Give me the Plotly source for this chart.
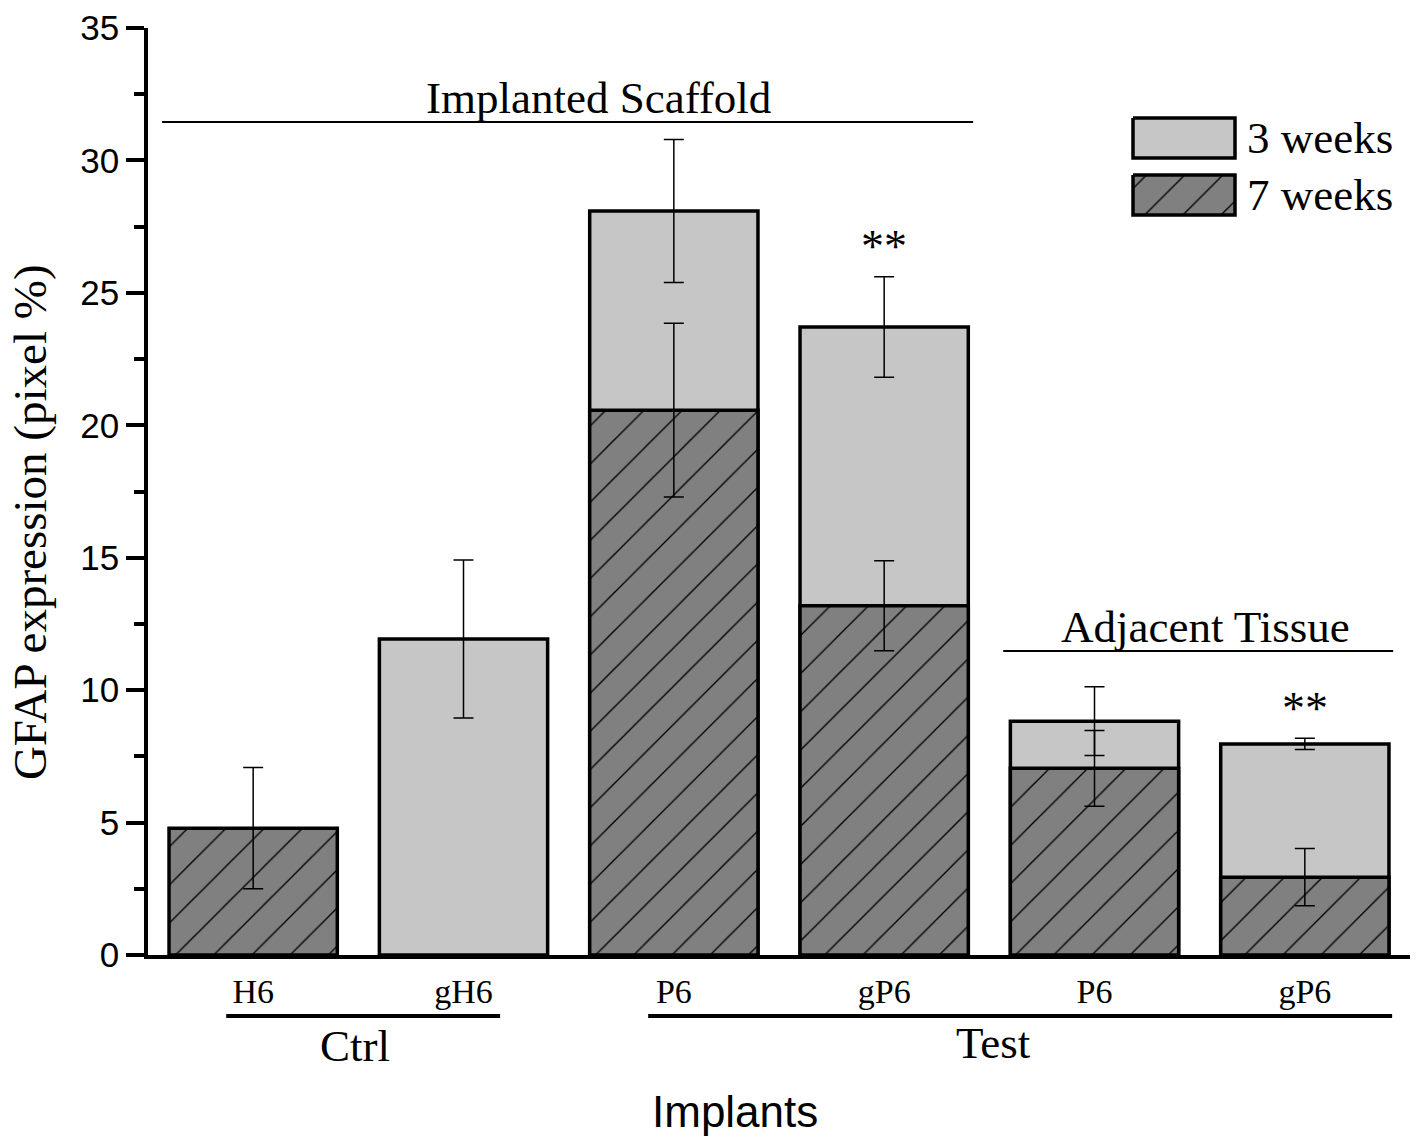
import plotly.graph_objects as go

# ---------------- data ----------------
categories = ["H6", "gH6", "P6", "gP6", "P6", "gP6"]
cat_pos = [0, 1, 2, 3, 4, 5]

# 3 weeks (light gray) – no value for H6
w3_pos = [1, 2, 3, 4, 5]
w3_vals = [11.93, 28.09, 23.71, 8.83, 7.97]
w3_err = [2.98, 2.70, 1.90, 1.30, 0.21]

# 7 weeks (hatched dark gray) – no value for gH6
w7_pos = [0, 2, 3, 4, 5]
w7_vals = [4.79, 20.57, 13.19, 7.05, 2.94]
w7_err = [2.29, 3.28, 1.70, 1.43, 1.08]

SERIF = "Liberation Serif"
SANS = "Liberation Sans"

fig = go.Figure()

fig.add_trace(go.Bar(
    x=w3_pos, y=w3_vals, width=0.8, name="3 weeks",
    marker=dict(color="#c6c6c6", line=dict(color="black", width=3.5)),
    error_y=dict(type="data", array=w3_err, visible=True,
                 color="black", thickness=1.5, width=10),
    showlegend=False,
))
fig.add_trace(go.Bar(
    x=w7_pos, y=w7_vals, width=0.8, name="7 weeks",
    marker=dict(color="#808080", line=dict(color="black", width=3.5),
                pattern=dict(shape="/", fgcolor="black", bgcolor="#808080",
                             size=27, solidity=0.05, fillmode="replace")),
    error_y=dict(type="data", array=w7_err, visible=True,
                 color="black", thickness=1.5, width=10),
    showlegend=False,
))

# ---------------- custom legend (boxes drawn on an auxiliary pixel-space axis) ----------------
legend_items = [
    ("3 weeks", "#c6c6c6", None, 118, 158),
    ("7 weeks", "#808080", "/", 175, 215),
]
bx0, bx1 = 1133, 1235
for label, col, pat, y0, y1 in legend_items:
    kw = {}
    if pat:
        kw["fillpattern"] = dict(shape=pat, fgcolor="black", bgcolor=col,
                                 size=27, solidity=0.05, fillmode="replace")
    fig.add_trace(go.Scatter(
        x=[bx0, bx1, bx1, bx0, bx0], y=[y0, y0, y1, y1, y0],
        xaxis="x2", yaxis="y2", mode="lines", fill="toself",
        fillcolor=col, line=dict(color="black", width=3.5),
        hoverinfo="skip", showlegend=False, **kw,
    ))
    fig.add_annotation(x=1245, y=(y0 + y1) / 2, xref="x2", yref="y2",
                       text=label, showarrow=False, xanchor="left", yanchor="middle",
                       font=dict(family=SERIF, size=45, color="black"))

# ---------------- annotations / bracket lines ----------------
shapes = [
    dict(type="line", xref="x", yref="y", x0=-0.433, x1=3.423, y0=31.45, y1=31.45,
         line=dict(color="black", width=2)),
    dict(type="line", xref="x", yref="y", x0=3.566, x1=5.42, y0=11.48, y1=11.48,
         line=dict(color="black", width=2)),
    dict(type="line", xref="x", yref="paper", x0=-0.128, x1=1.174, y0=-0.0658, y1=-0.0658,
         line=dict(color="black", width=4)),
    dict(type="line", xref="x", yref="paper", x0=1.878, x1=5.415, y0=-0.0658, y1=-0.0658,
         line=dict(color="black", width=4)),
]
fig.update_layout(shapes=shapes)

fig.add_annotation(x=1.64, y=32.35, xref="x", yref="y", text="Implanted Scaffold",
                   showarrow=False, yanchor="middle",
                   font=dict(family=SERIF, size=45, color="black"))
fig.add_annotation(x=4.53, y=12.38, xref="x", yref="y", text="Adjacent Tissue",
                   showarrow=False, yanchor="middle",
                   font=dict(family=SERIF, size=45, color="black"))
fig.add_annotation(x=3, y=26.75, xref="x", yref="y", text="**",
                   showarrow=False, yanchor="middle",
                   font=dict(family=SERIF, size=46, color="black"))
fig.add_annotation(x=5, y=9.3, xref="x", yref="y", text="**",
                   showarrow=False, yanchor="middle",
                   font=dict(family=SERIF, size=46, color="black"))
fig.add_annotation(x=0.485, y=-0.098, xref="x", yref="paper", text="Ctrl",
                   showarrow=False, yanchor="middle",
                   font=dict(family=SERIF, size=45, color="black"))
fig.add_annotation(x=3.52, y=-0.095, xref="x", yref="paper", text="Test",
                   showarrow=False, yanchor="middle",
                   font=dict(family=SERIF, size=45, color="black"))
fig.add_annotation(x=0.465, y=-0.169, xref="paper", yref="paper", text="Implants",
                   showarrow=False, yanchor="middle",
                   font=dict(family=SANS, size=44, color="black"))
fig.add_annotation(x=-0.0935, y=0.467, xref="paper", yref="paper",
                   text="GFAP expression (pixel %)", textangle=-90,
                   showarrow=False, xanchor="center", yanchor="middle",
                   font=dict(family=SERIF, size=47, color="black"))

fig.update_layout(
    width=1417, height=1137,
    margin=dict(l=148, r=7, t=28, b=182),
    paper_bgcolor="white", plot_bgcolor="white",
    barmode="overlay",
    bargap=0.2,
    xaxis=dict(
        range=[-0.5, 5.5], tickmode="array", tickvals=cat_pos, ticktext=categories,
        showline=True, linecolor="black", linewidth=3.5, ticks="",
        ticklabelstandoff=3,
        tickfont=dict(family=SERIF, size=34, color="black"),
        showgrid=False, zeroline=False, fixedrange=True,
    ),
    yaxis=dict(
        range=[0, 35], tickmode="linear", tick0=0, dtick=5,
        showline=True, linecolor="black", linewidth=3.5,
        ticks="outside", ticklen=18, tickwidth=3.5, tickcolor="black",
        minor=dict(ticks="outside", ticklen=10, tickwidth=3.5, tickcolor="black",
                   dtick=2.5, showgrid=False),
        tickfont=dict(family=SANS, size=35, color="black"),
        showgrid=False, zeroline=False,
    ),
    xaxis2=dict(overlaying="x", range=[148, 1410], visible=False, fixedrange=True),
    yaxis2=dict(overlaying="y", range=[955, 28], visible=False, fixedrange=True),
)

fig.write_html("out.html",
               config={"displayModeBar": False},
               post_script="document.body.style.margin='0';document.body.style.overflow='hidden';")
